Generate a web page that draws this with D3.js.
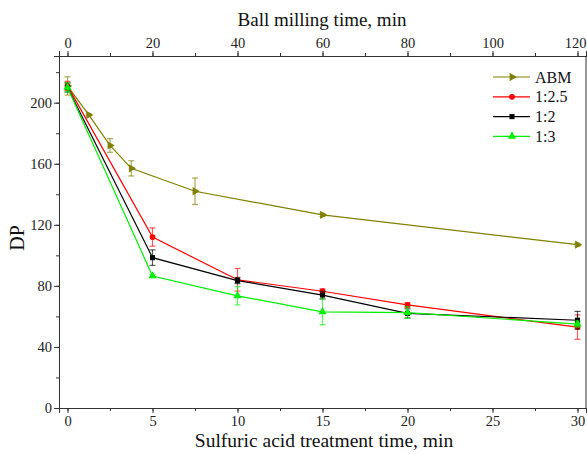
<!DOCTYPE html>
<html><head><meta charset="utf-8">
<script src="https://cdn.jsdelivr.net/npm/d3@7"></script>
<style>body{margin:0;background:#fff}svg{display:block}</style>
</head><body><svg id="c" width="587" height="454"></svg>
<script>
const abmTime=[0,5,10,15,30,60,120];
const abmDP=[211,192,172,157,142,126.5,107];
const abmErr=[6,0.5,4.5,5,8.7,1,1];
const acidTime=[0,5,10,15,20,30];
const dp25=[211,112,84,76.5,67.5,53];
const err25=[3,6,7.4,1.5,1.5,8];
const dp2=[210,98.5,83.5,74,62,57.5];
const err2=[3,5.1,2,2.5,3,5.8];
const dp3=[210,86.5,73.5,63,62.5,55];
const err3=[3,1,6,8.4,3.8,2];
const bottomTicks=[0,5,10,15,20,25,30];
const topTicks=[0,20,40,60,80,100,120];
const yTicks=[0,40,80,120,160,200];

const FONT="'Liberation Serif', 'Times New Roman', 'DejaVu Serif', serif";
const L=59,R=586,T=56,B=408;
const svg=d3.select("#c").style("font-family",FONT);
const x=d3.scaleLinear().domain([-0.5,30.5]).range([L,R]);
const xt=d3.scaleLinear().domain([-2,122]).range([L,R]);
const y=d3.scaleLinear().domain([0,230.6]).range([B,T]);

function styleAxis(g){g.attr("font-family",null).style("font-family",FONT);g.select(".domain").attr("stroke","#333");g.selectAll(".tick line").attr("stroke","#333");g.selectAll("text").attr("font-size",14.5).attr("fill","#222").style("font-family",FONT);}
// minor ticks
svg.append("g").attr("transform",`translate(0,${B})`).call(d3.axisBottom(x).tickValues(d3.range(0,30.1,2.5)).tickSize(3).tickFormat("")).call(styleAxis);
svg.append("g").attr("transform",`translate(0,${T})`).call(d3.axisTop(xt).tickValues(d3.range(0,121,10)).tickSize(3).tickFormat("")).call(styleAxis);
svg.append("g").attr("transform",`translate(${L},0)`).call(d3.axisLeft(y).tickValues(d3.range(0,221,20)).tickSize(3).tickFormat("")).call(styleAxis);
// major
svg.append("g").attr("transform",`translate(0,${B})`).call(d3.axisBottom(x).tickValues(bottomTicks).tickSize(5).tickPadding(3)).call(styleAxis);
const topAx=svg.append("g").attr("transform",`translate(0,${T})`).call(d3.axisTop(xt).tickValues(topTicks).tickSize(5).tickPadding(3)).call(styleAxis);
topAx.selectAll(".tick text").filter(d=>d===120).attr("dx",-2.5);
svg.append("g").attr("transform",`translate(${L},0)`).call(d3.axisLeft(y).tickValues(yTicks).tickSize(5).tickPadding(2)).call(styleAxis);
svg.append("line").attr("x1",R).attr("x2",R).attr("y1",T).attr("y2",B).attr("stroke","#333");
svg.selectAll(".domain").attr("stroke-width",1);

// titles
svg.append("text").attr("x",322).attr("y",26).attr("text-anchor","middle").style("font-family",FONT).attr("font-size",19).attr("fill","#111").text("Ball milling time, min");
svg.append("text").attr("x",324).attr("y",447).attr("text-anchor","middle").style("font-family",FONT).attr("font-size",19.5).attr("fill","#111").text("Sulfuric acid treatment time, min");
svg.append("text").attr("transform","translate(24,238) rotate(-90)").attr("text-anchor","middle").style("font-family",FONT).attr("font-size",20).attr("fill","#111").text("DP");

const series=[
 {name:"ABM",xs:abmTime,ys:abmDP,es:abmErr,sx:xt,color:"#808000",sym:d3.symbolTriangle,rot:90,size:30},
 {name:"1:2.5",xs:acidTime,ys:dp25,es:err25,sx:x,color:"#ff0000",sym:d3.symbolCircle,rot:0,size:26},
 {name:"1:2",xs:acidTime,ys:dp2,es:err2,sx:x,color:"#000000",sym:d3.symbolSquare,rot:0,size:26},
 {name:"1:3",xs:acidTime,ys:dp3,es:err3,sx:x,color:"#00ee00",sym:d3.symbolTriangle,rot:0,size:30}
];
series.forEach(s=>{
  const pts=s.xs.map((v,i)=>({x:v,y:s.ys[i],e:s.es[i]}));
  const g=svg.append("g");
  g.append("path").datum(pts).attr("fill","none").attr("stroke",s.color).attr("stroke-width",1.2)
   .attr("d",d3.line().x(d=>s.sx(d.x)).y(d=>y(d.y)));
  const eb=g.selectAll(".eb").data(pts).enter().append("g").attr("stroke",s.color).attr("stroke-opacity",0.65).attr("stroke-width",1.2);
  eb.append("line").attr("x1",d=>s.sx(d.x)).attr("x2",d=>s.sx(d.x)).attr("y1",d=>y(d.y-d.e)).attr("y2",d=>y(d.y+d.e));
  eb.append("line").attr("x1",d=>s.sx(d.x)-3).attr("x2",d=>s.sx(d.x)+3).attr("y1",d=>y(d.y-d.e)).attr("y2",d=>y(d.y-d.e));
  eb.append("line").attr("x1",d=>s.sx(d.x)-3).attr("x2",d=>s.sx(d.x)+3).attr("y1",d=>y(d.y+d.e)).attr("y2",d=>y(d.y+d.e));
  g.selectAll(".m").data(pts).enter().append("path").attr("d",d3.symbol().type(s.sym).size(s.size))
   .attr("transform",d=>`translate(${s.sx(d.x)},${y(d.y)}) rotate(${s.rot})`).attr("fill",s.color);
});
// legend
const lg=svg.append("g");
series.forEach((s,i)=>{
  const yy=77+i*19.8;
  lg.append("line").attr("x1",493).attr("x2",530).attr("y1",yy).attr("y2",yy).attr("stroke",s.color).attr("stroke-width",1.2);
  lg.append("path").attr("d",d3.symbol().type(s.sym).size(s.size)).attr("transform",`translate(512,${yy}) rotate(${s.rot})`).attr("fill",s.color);
  lg.append("text").attr("x",535).attr("y",yy+5.5).style("font-family",FONT).attr("font-size",16).attr("fill","#111").text(s.name);
});
</script></body></html>
